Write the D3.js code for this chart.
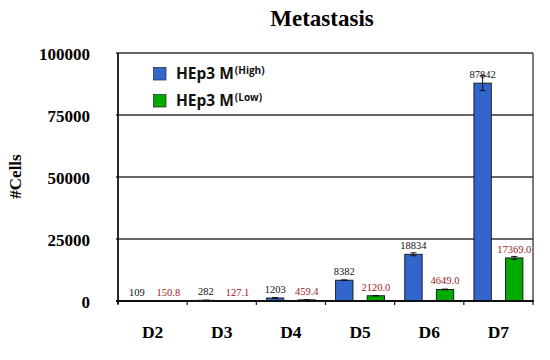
<!DOCTYPE html>
<html><head><meta charset="utf-8">
<script src="https://cdn.jsdelivr.net/npm/d3@7"></script>
<style>body{margin:0;background:#fff}svg{display:block}</style>
</head><body><svg id="c" width="550" height="360"></svg>
<script>
const categories = ["D2","D3","D4","D5","D6","D7"];
const highValues = [109, 282, 1203, 8382, 18834, 87842];
const lowValues = [150.8, 127.1, 459.4, 2120.0, 4649.0, 17369.0];
const highErrors = [20, 40, 150, 120, 600, 3000];
const lowErrors = [20, 20, 60, 100, 150, 600];
const highLabels = ["109","282","1203","8382","18834","87842"];
const lowLabels = ["150.8","127.1","459.4","2120.0","4649.0","17369.0"];
const yTicks = [0, 25000, 50000, 75000, 100000];
const seriesNames = ["HEp3 M", "HEp3 M"];
const seriesSup = ["(High)", "(Low)"];

const svg = d3.select("#c");
const L = 118, R = 533, T = 53, B = 301;
const x = d3.scaleBand().domain(categories).range([L, R]);
const sub = d3.scaleBand().domain(["h","l"]).range([0, x.bandwidth()]).paddingInner(0.45).paddingOuter(0.32);
const y = d3.scaleLinear().domain([0, 100000]).range([B, T]);
const blue = "#3366CC", green = "#00AA00", red = "#9B1B1B";

// title
svg.append("text").attr("x", 322).attr("y", 26).attr("text-anchor","middle")
  .attr("font-family","Liberation Serif, serif").attr("font-weight","bold").attr("font-size",23)
  .text("Metastasis");

// gridlines
svg.append("g").selectAll("line").data(yTicks.filter(d=>d>0)).join("line")
  .attr("x1", L-2).attr("x2", R).attr("y1", d=>y(d)).attr("y2", d=>y(d))
  .attr("stroke","#333").attr("stroke-width",1.3);
// right border
svg.append("line").attr("x1",R).attr("x2",R).attr("y1",T).attr("y2",B).attr("stroke","#333").attr("stroke-width",1.3);

// y tick labels
svg.append("g").selectAll("text").data(yTicks).join("text")
  .attr("x", 90).attr("y", d=>y(d)+7).attr("text-anchor","end")
  .attr("font-family","Liberation Serif, serif").attr("font-weight","bold").attr("font-size",17)
  .text(d=>d);

// y label
svg.append("text").attr("transform","translate(21,176.5) rotate(-90)").attr("text-anchor","middle")
  .attr("font-family","Liberation Serif, serif").attr("font-weight","bold").attr("font-size",17)
  .text("#Cells");

// bars
const gB = svg.append("g");
function drawSeries(vals, errs, key, color, labels, labColor){
  const g = gB.append("g");
  g.selectAll("rect").data(categories).join("rect")
    .attr("x", (c)=>x(c)+sub(key)).attr("width", sub.bandwidth())
    .attr("y", (c,i)=>y(vals[i])).attr("height", (c,i)=>B-y(vals[i]))
    .attr("fill", color).attr("stroke","#111").attr("stroke-width",0.9);
  const e = g.append("g");
  categories.forEach((c,i)=>{
    const cx = x(c)+sub(key)+sub.bandwidth()/2;
    const y1 = y(vals[i]+errs[i]), y2 = y(Math.max(0, vals[i]-errs[i]));
    e.append("line").attr("x1",cx).attr("x2",cx).attr("y1",y1).attr("y2",y2).attr("stroke","#111").attr("stroke-width",1);
    e.append("line").attr("x1",cx-3).attr("x2",cx+3).attr("y1",y1).attr("y2",y1).attr("stroke","#111").attr("stroke-width",1);
    e.append("line").attr("x1",cx-3).attr("x2",cx+3).attr("y1",y2).attr("y2",y2).attr("stroke","#111").attr("stroke-width",1);
  });
  g.selectAll("text").data(categories).join("text")
    .attr("x", c=>x(c)+sub(key)+sub.bandwidth()/2)
    .attr("y", (c,i)=>Math.min(y(vals[i]) - 5, y(vals[i]+errs[i]) + 3 ))
    .attr("text-anchor","middle").attr("font-family","Liberation Serif, serif").attr("font-size",10.5)
    .attr("fill", labColor).text((c,i)=>labels[i]);
}
drawSeries(highValues, highErrors, "h", blue, highLabels, "#111");
drawSeries(lowValues, lowErrors, "l", green, lowLabels, red);

// axes
svg.append("line").attr("x1",L).attr("x2",L).attr("y1",T).attr("y2",B+3).attr("stroke","#111").attr("stroke-width",1.8);
svg.append("line").attr("x1",L-2).attr("x2",R+1).attr("y1",B).attr("y2",B).attr("stroke","#111").attr("stroke-width",1.8);
const bounds = categories.map(c=>x(c)).concat([R]);
svg.append("g").selectAll("line").data(bounds).join("line")
  .attr("x1",d=>d).attr("x2",d=>d).attr("y1",B).attr("y2",B+4).attr("stroke","#111").attr("stroke-width",1.2);
svg.append("g").selectAll("text").data(categories).join("text")
  .attr("x", c=>x(c)+x.bandwidth()/2).attr("y", 338).attr("text-anchor","middle")
  .attr("font-family","Liberation Serif, serif").attr("font-weight","bold").attr("font-size",17.5)
  .text(c=>c);

// legend
const legColors = [blue, green];
const legY = [67, 94];
legColors.forEach((col,i)=>{
  svg.append("rect").attr("x",153.5).attr("y",legY[i]+0.5).attr("width",12.5).attr("height",12.5)
    .attr("fill",col).attr("stroke","#333").attr("stroke-width",0.8);
  const t = svg.append("text").attr("x",176).attr("y",legY[i]+11.5)
    .attr("font-family","Open Sans, sans-serif").attr("font-weight","bold").attr("font-size",15.5).attr("fill","#111");
  t.append("tspan").text(seriesNames[i]);
  t.append("tspan").attr("dy",-5).attr("dx",1).attr("font-size",10).text(seriesSup[i]);
});
</script></body></html>
